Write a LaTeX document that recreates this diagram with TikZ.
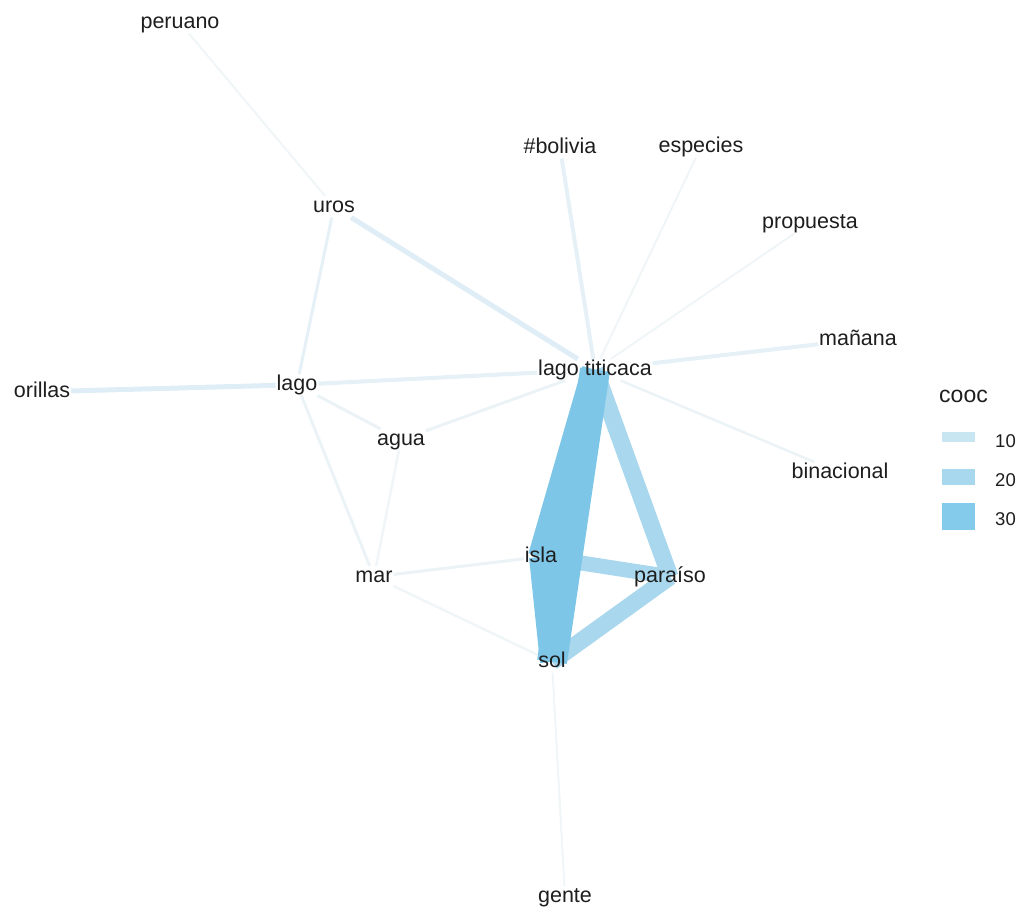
\documentclass[tikz,border=0pt]{standalone}
\usepackage{fontspec}
\setmainfont{Liberation Sans}
\usetikzlibrary{backgrounds}
\definecolor{ethick}{HTML}{7EC6E8}
\definecolor{emed}{HTML}{A8D7EE}
\definecolor{ea}{HTML}{DFEDF6}
\definecolor{eb}{HTML}{E5F0F7}
\definecolor{ec}{HTML}{EBF3F7}
\definecolor{ed}{HTML}{F0F5F8}
\definecolor{kten}{HTML}{C8E6F1}
\definecolor{ktwenty}{HTML}{A8D8EE}
\definecolor{kthirty}{HTML}{84CAEA}
\definecolor{txt}{HTML}{1E1E1E}
\begin{document}
\begin{tikzpicture}[x=1pt,y=-1pt,
  lbl/.style={inner sep=0pt, outer sep=1pt, text height=15pt, text depth=4.5pt,
              font=\fontsize{21.5}{25}\selectfont, text=txt},
  edge/.style={line cap=butt},
  legtxt/.style={inner sep=0pt, font=\fontsize{18.5}{22}\selectfont, text=txt, anchor=base west}]
\useasboundingbox (0,0) rectangle (1019,908);

% word nodes
\node[lbl] (peruano)    at (180,22.75)  {peruano};
\node[lbl] (uros)       at (334,206.75) {uros};
\node[lbl] (bolivia)    at (560,147.75) {\#bolivia};
\node[lbl] (especies)   at (701,146.75) {especies};
\node[lbl] (propuesta)  at (810,222.75) {propuesta};
\node[lbl] (manana)     at (858,339.75) {mañana};
\node[lbl] (binacional) at (840,472.75) {binacional};
\node[lbl] (tt)         at (595,369.75) {lago titicaca};
\node[lbl] (lago)       at (297,384.75) {lago};
\node[lbl] (orillas)    at (42,391.75)  {orillas};
\node[lbl] (agua)       at (401,439.75) {agua};
\node[lbl] (mar)        at (374,576.75) {mar};
\node[lbl] (isla)       at (541,556.75) {isla};
\node[lbl] (paraiso)    at (670,576.75) {paraíso};
\node[lbl] (sol)        at (552,661.75) {sol};
\node[lbl] (gente)      at (565,896.75) {gente};

\begin{pgfonlayer}{background}
% light edges
\draw[edge, ed, line width=2pt]   (peruano) -- (uros);
\draw[edge, ea, line width=5pt]   (uros) -- (tt);
\draw[edge, eb, line width=3pt]   (uros) -- (lago);
\draw[edge, ea, line width=5pt]   (orillas) -- (lago);
\draw[edge, eb, line width=4pt]   (lago) -- (tt);
\draw[edge, ec, line width=3pt]   (lago) -- (agua);
\draw[edge, ec, line width=3pt]   (lago) -- (mar);
\draw[edge, ec, line width=3pt]   (agua) -- (tt);
\draw[edge, ed, line width=2.5pt] (agua) -- (mar);
\draw[edge, ec, line width=3pt]   (mar) -- (isla);
\draw[edge, ed, line width=2.5pt] (mar) -- (sol);
\draw[edge, eb, line width=4pt]   (bolivia) -- (tt);
\draw[edge, ed, line width=2pt]   (especies) -- (tt);
\draw[edge, ed, line width=2pt]   (propuesta) -- (tt);
\draw[edge, eb, line width=4pt]   (manana) -- (tt);
\draw[edge, ec, line width=2.5pt] (binacional) -- (tt);
\draw[edge, ed, line width=2pt]   (sol) -- (gente);
% medium edges
\draw[edge, emed, line width=17pt] (tt.center) -- (paraiso.center);
\draw[edge, emed, line width=15pt] (isla.center) -- (paraiso.center);
\draw[edge, emed, line width=17pt] (sol.center) -- (paraiso.center);
% thick edges
\draw[edge, ethick, line width=24pt] (isla.center) -- (sol.center);
\draw[edge, ethick, line width=26pt] (tt.center) -- (isla.center);
\draw[edge, ethick, line width=30pt] (tt.center) -- (sol.center);
\end{pgfonlayer}

% legend
\node[inner sep=0pt, anchor=base west, font=\fontsize{23}{27}\selectfont, text=txt] (legtitle) at (939,402) {cooc};
\fill[kten]    (942,432) rectangle (975,442);
\fill[ktwenty] (942,469) rectangle (975,485);
\fill[kthirty] (942,503) rectangle (975,530);
\node[legtxt] (l10) at (995,447) {10};
\node[legtxt] (l20) at (995,486) {20};
\node[legtxt] (l30) at (995,525) {30};
\end{tikzpicture}
\end{document}
